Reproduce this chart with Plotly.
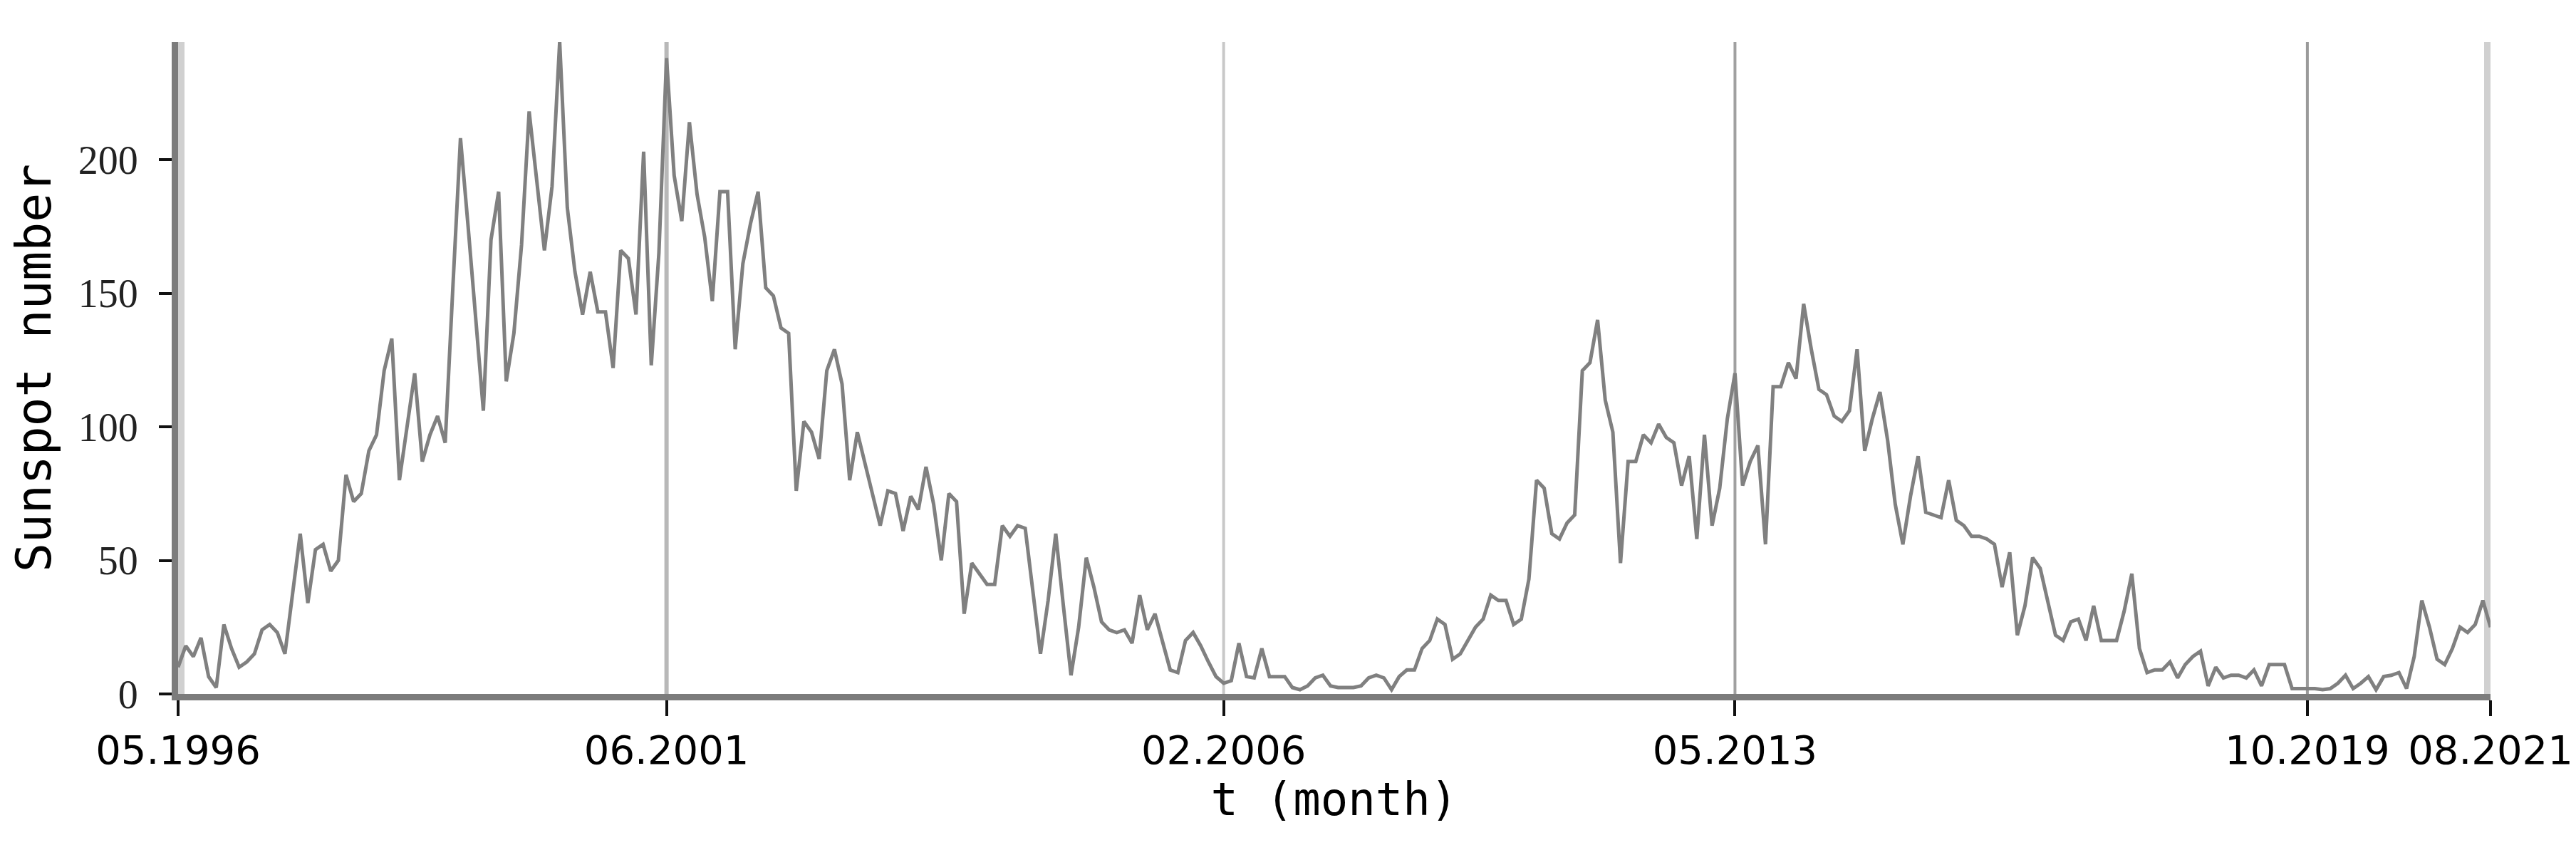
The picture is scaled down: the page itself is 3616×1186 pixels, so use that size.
import plotly.graph_objects as go

# monthly sunspot number, one value per month from 05.1996 to 08.2021
sunspots = [
    10, 18, 14, 21, 6.5, 2.4, 26, 17, 10, 12,
    15, 24, 26, 23, 15, 38, 60, 34, 54, 56,
    46, 50, 82, 72, 75, 91, 97, 121, 133, 80,
    100, 120, 87, 97, 104, 94, 152, 208, 175, 140,
    106, 170, 188, 117, 135, 168, 218, 192, 166, 190,
    244, 182, 158, 142, 158, 143, 143, 122, 166, 163,
    142, 203, 123, 165, 238, 194, 177, 214, 187, 171,
    147, 188, 188, 129, 161, 176, 188, 152, 149, 137,
    135, 76, 102, 98, 88, 121, 129, 116, 80, 98,
    86, 74, 63, 76, 75, 61, 74, 69, 85, 71,
    50, 75, 72, 30, 49, 45, 41, 41, 63, 59,
    63, 62, 38, 15, 35, 60, 33, 7, 25, 51,
    40, 27, 24, 23, 24, 19, 37, 24, 30, 20,
    9, 8, 20, 23, 18, 12, 6.5, 4, 5, 19,
    6.5, 6, 17, 6.5, 6.5, 6.5, 2.4, 1.6, 3, 6,
    7, 3, 2.4, 2.4, 2.4, 3, 6, 7, 6, 1.6,
    6.5, 9, 9, 17, 20, 28, 26, 13, 15, 20,
    25, 28, 37, 35, 35, 26, 28, 43, 80, 77,
    60, 58, 64, 67, 121, 124, 140, 110, 98, 49,
    87, 87, 97, 94, 101, 96, 94, 78, 89, 58,
    97, 63, 77, 103, 120, 78, 87, 93, 56, 115,
    115, 124, 118, 146, 129, 114, 112, 104, 102, 106,
    129, 91, 103, 113, 95, 71, 56, 74, 89, 68,
    67, 66, 80, 65, 63, 59, 59, 58, 56, 40,
    53, 22, 33, 51, 47, 35, 22, 20, 27, 28,
    20, 33, 20, 20, 20, 31, 45, 17, 8, 9,
    9, 12, 6, 11, 14, 16, 3, 10, 6, 7,
    7, 6, 9, 3, 11, 11, 11, 2, 2, 2,
    2, 1.6, 2, 4, 7, 2, 4, 6.5, 1.6, 6.5,
    7, 8, 2, 14, 35, 25, 13, 11, 17, 25,
    23, 26, 35, 25,
]
t = list(range(len(sunspots)))

tick_pos = [0, 64, 137, 204, 279, 303]
tick_text = ['05.1996', '06.2001', '02.2006', '05.2013', '10.2019', '08.2021']
y_ticks = [0, 50, 100, 150, 200]

# vertical guide lines at the labelled months
grid_colors = ['#d0d0d0', '#b8b8b8', '#c8c8c8', '#a0a0a0', '#9a9a9a', '#d0d0d0']
grid_widths = [18, 6, 4, 4, 4, 18]

fig = go.Figure()
for pos, col, w in zip(tick_pos, grid_colors, grid_widths):
    fig.add_vline(x=pos, line_color=col, line_width=w, layer='below')

fig.add_trace(go.Scatter(
    x=t, y=sunspots, mode='lines',
    line=dict(color='#808080', width=5),
    showlegend=False,
))

fig.update_layout(
    width=3616, height=1186,
    margin=dict(l=242, r=122, t=51, b=220),
    plot_bgcolor='white', paper_bgcolor='white',
)

fig.update_xaxes(
    range=[0, 303], tickvals=tick_pos, ticktext=tick_text,
    showgrid=False, zeroline=False,
    showline=True, linecolor='#7c7c7c', linewidth=9,
    ticks='outside', ticklen=22, tickwidth=4, tickcolor='#111111',
    tickfont=dict(family='DejaVu Sans', size=56, color='black'),
    title=dict(text='t (month)', standoff=18,
               font=dict(family='DejaVu Sans Mono', size=64, color='black')),
)

fig.update_yaxes(
    range=[0, 244], tickvals=y_ticks,
    showgrid=False, zeroline=False,
    showline=True, linecolor='#7c7c7c', linewidth=9,
    ticks='outside', ticklen=18, tickwidth=4, tickcolor='#111111',
    ticklabelstandoff=18,
    tickfont=dict(family='Liberation Serif', size=56, color='#222222'),
    title=dict(text='Sunspot number', standoff=22,
               font=dict(family='DejaVu Sans Mono', size=68, color='black')),
)

fig.write_html("out.html")
